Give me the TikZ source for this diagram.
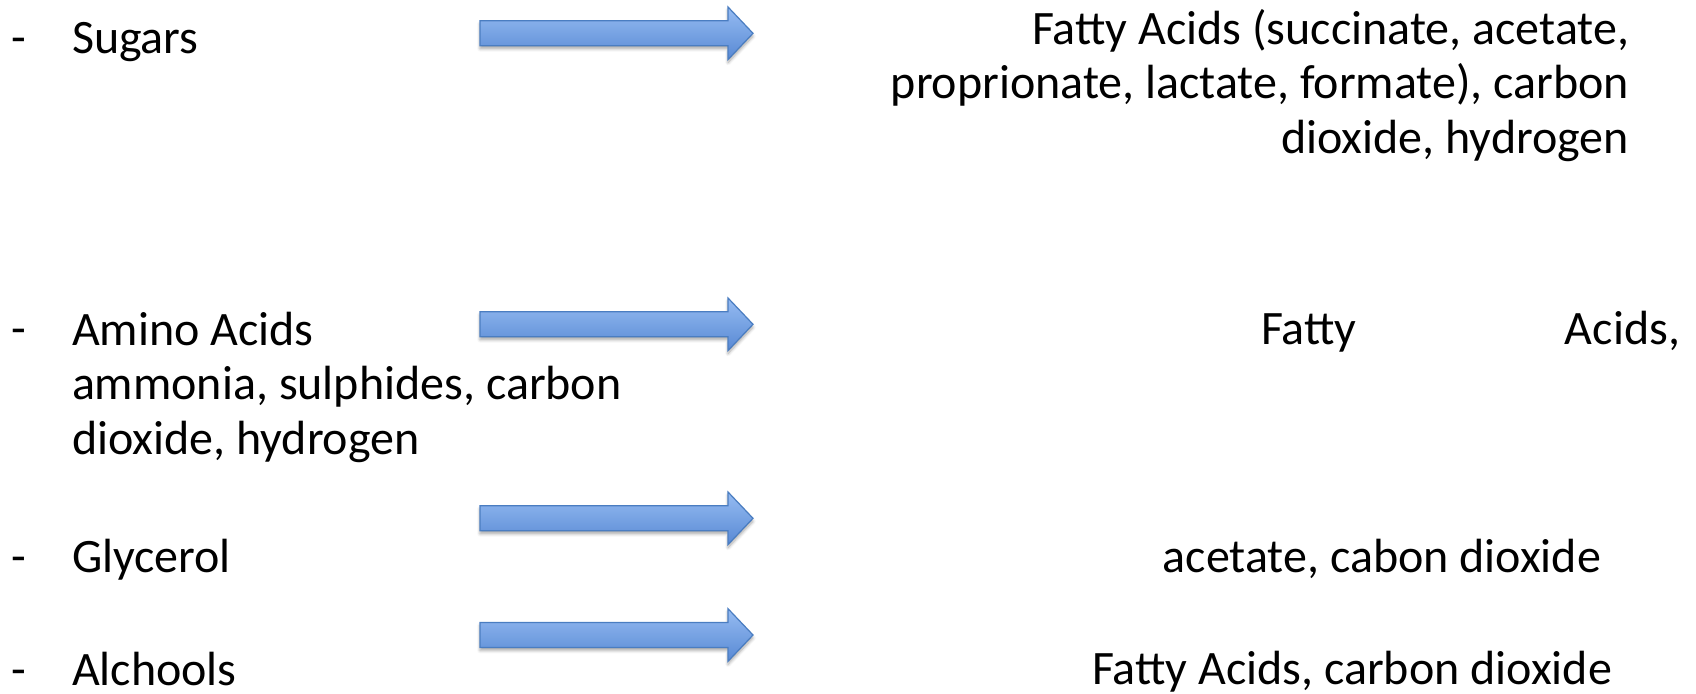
\documentclass[tikz,border=0pt]{standalone}
\usepackage{fontspec}
\setmainfont{Carlito}
\usetikzlibrary{shadows.blur}

\definecolor{arrowtop}{RGB}{150,188,242}
\definecolor{arrowbot}{RGB}{88,137,212}
\definecolor{arrowline}{RGB}{74,125,193}

\tikzset{
  txt/.style={inner sep=0pt, outer sep=0pt, font=\fontsize{48}{54.5}\selectfont},
  blocktxt/.style={txt, align=left},
  righttxt/.style={txt, align=right},
  flow/.style={draw=arrowline, line width=1.2pt, line join=miter,
    top color=arrowtop, bottom color=arrowbot,
    blur shadow={shadow xshift=0pt, shadow yshift=-3pt, shadow blur steps=6,
      shadow blur radius=3pt, shadow opacity=35}},
}

% block arrow centred on height #1
\newcommand\flowarrow[1]{%
  \path[flow] (480,#1-12.5) -- (728,#1-12.5) -- (728,#1-26.3) -- (753,#1)
    -- (728,#1+26.3) -- (728,#1+12.5) -- (480,#1+12.5) -- cycle;}

\begin{document}
\begin{tikzpicture}[x=1pt, y=-1pt]
  \useasboundingbox (0,0) rectangle (1696,693);

  % arrows
  \flowarrow{33.3}
  \flowarrow{324.3}
  \flowarrow{518.3}
  \flowarrow{635}

  % list dashes
  \node[txt, anchor=base west] (d1) at (11,54) {-};
  \node[txt, anchor=base west] (d2) at (11,344) {-};
  \node[txt, anchor=base west] (d3) at (11,572) {-};
  \node[txt, anchor=base west, text depth=0pt] (d4) at (11,685) {-};

  % substrates (multi-line blocks are placed by the baseline of their last line)
  \node[txt, anchor=base west] (sugars) at (72,54) {Sugars};
  \node[blocktxt, anchor=base west] (amino) at (72,454)
    {Amino Acids\\ammonia, sulphides, carbon\\dioxide, hydrogen};
  \node[txt, anchor=base west] (glycerol) at (72,572) {Glycerol};
  \node[txt, anchor=base west, text depth=0pt] (alc) at (72,685) {Alchools};

  % products
  \node[righttxt, anchor=base east] (p1) at (1629,153)
    {Fatty Acids (succinate, acetate,\\proprionate, lactate, formate), carbon\\dioxide, hydrogen};
  \node[txt, anchor=base west] (p2) at (1261,344)
    {\hbox to 419pt{Fatty\hfill Acids,}};
  \node[txt, anchor=base east] (p3) at (1601,572) {acetate, cabon dioxide};
  \node[txt, anchor=base east, text depth=0pt] (p4) at (1612,684) {Fatty Acids, carbon dioxide};
\end{tikzpicture}
\end{document}
